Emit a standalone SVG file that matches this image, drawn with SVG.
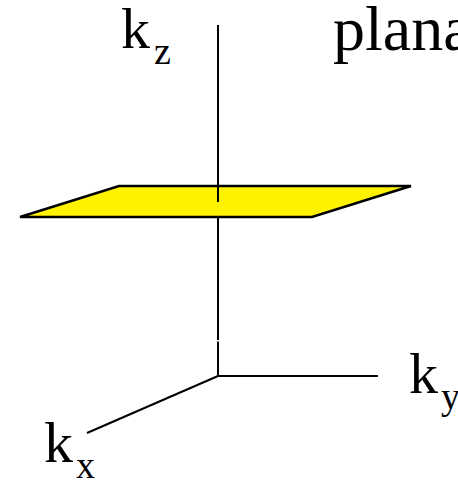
<svg xmlns="http://www.w3.org/2000/svg" width="458" height="482" viewBox="0 0 458 482">
<style>
.ax{stroke:#000;stroke-width:2;fill:none}
.t{font-family:"Liberation Serif","Times New Roman",serif;fill:#000}
.big{font-size:58px}
.sub{font-size:38px}
</style>
<rect width="458" height="482" fill="#fff"/>
<g id="plane">
<polygon points="20,217 119,186 411,186 312,217" fill="#fff200" stroke="#000" stroke-width="2.5" stroke-linejoin="miter"/>
</g>
<g id="connectors">
<line class="ax" x1="218" y1="25" x2="218" y2="202"/>
<line class="ax" x1="218" y1="217" x2="218" y2="340"/>
<line class="ax" x1="218" y1="341.5" x2="218" y2="377"/>
<line class="ax" x1="217" y1="376" x2="378" y2="376"/>
<line class="ax" x1="218" y1="376" x2="87" y2="433"/>
</g>
<g id="kz"><text class="t big" x="121" y="48">k</text><text class="t sub" x="154" y="64">z</text></g>
<g id="planar"><text class="t" style="font-size:64px" x="333" y="50">plana</text></g>
<g id="ky"><text class="t big" x="409" y="393">k</text><text class="t sub" x="441" y="409">y</text></g>
<g id="kx"><text class="t big" x="44" y="462">k</text><text class="t sub" x="76" y="478">x</text></g>
</svg>
